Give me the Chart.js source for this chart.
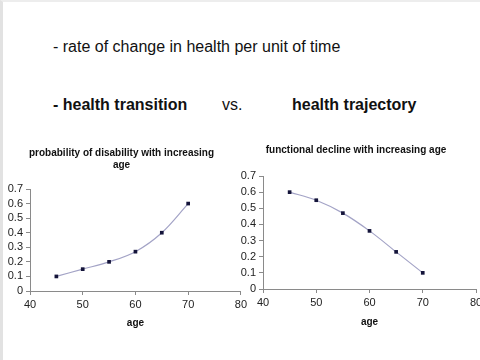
<!DOCTYPE html>
<html>
<head>
<meta charset="utf-8">
<script src="https://cdn.jsdelivr.net/npm/chart.js@4/dist/chart.umd.min.js"></script>
<style>
  html, body { margin: 0; padding: 0; background: #fff; }
  body { width: 480px; height: 360px; position: relative; overflow: hidden; font-family: "Liberation Sans", Arial, sans-serif; }
  .frame { position: absolute; left: 0; top: 0; width: 477px; height: 358px; border-left: 3px solid #e2e2e2; border-top: 2px solid #ededed; }
  .txt { position: absolute; font-size: 16px; line-height: 18px; color: #111; white-space: nowrap; }
  .b { font-weight: bold; }
  canvas { position: absolute; }
</style>
</head>
<body>
<div class="frame"></div>
<div class="txt" style="left:53px; top:38px;">- rate of change in health per unit of time</div>
<div class="txt b" style="left:53px; top:96px;">- health transition</div>
<div class="txt" style="left:222px; top:96px;">vs.</div>
<div class="txt b" style="left:292px; top:96px;">health trajectory</div>
<div style="position:absolute;left:0;top:140px;width:250px;height:200px;"><canvas id="c1" width="250" height="200"></canvas></div>
<div style="position:absolute;left:236px;top:140px;width:250px;height:200px;"><canvas id="c2" width="250" height="200"></canvas></div>
<script>
const ages = [45, 50, 55, 60, 65, 70];
const disability = [0.1, 0.15, 0.2, 0.27, 0.4, 0.6];
const functional = [0.6, 0.55, 0.47, 0.36, 0.23, 0.1];
const yTickLabels = ['0', '0.1', '0.2', '0.3', '0.4', '0.5', '0.6', '0.7'];
const xTickLabels = ['40', '50', '60', '70', '80'];
const title1 = ['probability of disability with increasing', 'age'];
const title2 = 'functional decline with increasing age';
const xTitle = 'age';

const FONT = '"Liberation Sans", Arial, sans-serif';

function makeChart(id, values, title, cfg) {
  const pts = ages.map((a, i) => ({ x: a, y: values[i] }));
  return new Chart(document.getElementById(id), {
    type: 'scatter',
    data: {
      datasets: [{
        data: pts,
        showLine: true,
        borderColor: '#a3a3c6',
        borderWidth: 1.2,
        tension: 0.35,
        pointStyle: 'rect',
        pointRadius: 2.6,
        pointBackgroundColor: '#14143a',
        pointBorderColor: '#14143a',
        pointBorderWidth: 0
      }]
    },
    options: {
      responsive: false,
      animation: false,
      devicePixelRatio: 1,
      layout: { padding: { top: 0, right: cfg.padRight, bottom: 0, left: 0 } },
      plugins: {
        legend: { display: false },
        tooltip: { enabled: false },
        title: {
          display: true,
          text: title,
          color: '#111',
          font: { family: FONT, size: 10, weight: 'bold', lineHeight: 1.2 },
          padding: { top: cfg.titleTop, bottom: cfg.titleBottom }
        }
      },
      scales: {
        x: {
          type: 'linear',
          min: 40, max: 80,
          ticks: {
            stepSize: 10,
            autoSkip: false,
            color: '#222',
            font: { family: FONT, size: 11 },
            padding: 3,
            maxRotation: 0,
            callback: (v) => { const i = xTickLabels.indexOf(String(v)); return i >= 0 ? xTickLabels[i] : ''; }
          },
          grid: { drawOnChartArea: false, drawTicks: true, tickLength: 4, color: '#8a8a8a' },
          border: { display: true, color: '#8a8a8a', width: 1 },
          title: {
            display: true, text: xTitle, color: '#111',
            font: { family: FONT, size: 10, weight: 'bold' },
            padding: { top: 0, bottom: cfg.xTitlePad }
          },
          afterFit: (s) => { s.height = cfg.xHeight; }
        },
        y: {
          type: 'linear',
          min: 0, max: 0.7,
          ticks: {
            stepSize: 0.1,
            autoSkip: false,
            color: '#222',
            font: { family: FONT, size: 11 },
            padding: 3,
            callback: (v) => yTickLabels[Math.round(v * 10)]
          },
          grid: { drawOnChartArea: false, drawTicks: true, tickLength: 4, color: '#8a8a8a' },
          border: { display: true, color: '#8a8a8a', width: 1 },
          afterFit: (s) => { s.width = cfg.yWidth; }
        }
      }
    }
  });
}

makeChart('c1', disability, title1, {
  padRight: 7, titleTop: 7, titleBottom: 18, xHeight: 49, yWidth: 30, xTitlePad: 11
});
makeChart('c2', functional, title2, {
  padRight: 10, titleTop: 4, titleBottom: 20, xHeight: 51, yWidth: 27, xTitlePad: 12
});
</script>
</body>
</html>
